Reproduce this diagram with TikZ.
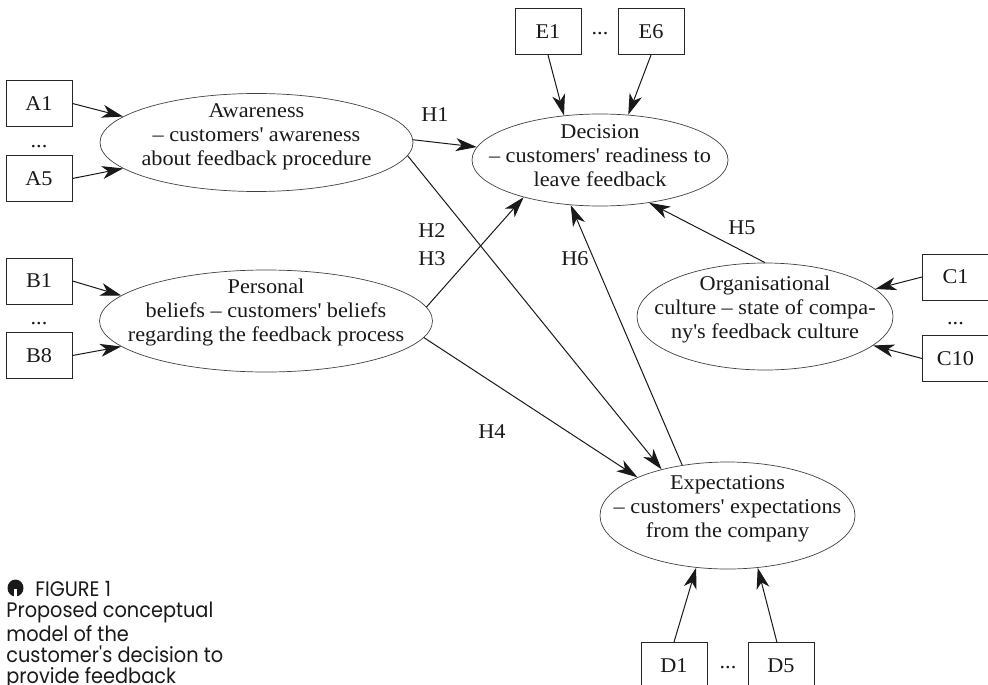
\documentclass[tikz,border=0pt]{standalone}
\usepackage{fontspec}
\setmainfont[FakeStretch=1.06]{Liberation Serif}
\newfontfamily\capfont[FakeStretch=0.92]{Poppins}
\usetikzlibrary{shapes.geometric,arrows.meta}
\newcommand\apo{\textquotesingle}
\newcommand\ltext[2]{\makebox[0pt]{\raisebox{#1}[0pt][0pt]{\begin{tabular}{@{}c@{}}#2\end{tabular}}}}
\begin{document}
\begin{tikzpicture}[x=0.5pt,y=-0.5pt,
  txt/.style={font=\rmfamily\fontsize{10.5}{12}\selectfont, text=black!90},
  ind/.style={txt, draw=black!85, line width=0.5pt, minimum width=33pt, minimum height=23pt, inner sep=0pt},
  lat/.style={txt, ellipse, draw=black!75, line width=0.35pt, inner sep=0pt},
  arr/.style={-{Stealth[length=10.5pt,width=6.5pt,inset=3pt]}, line width=0.5pt, black!90},
  lab/.style={txt, inner sep=0pt}]
\useasboundingbox (0,0) rectangle (988,684);

% indicator boxes
\node[ind] (A1) at (39,103.5) {A1};
\node[ind] (A5) at (39,178.5) {A5};
\node[lab] (Ad) at (39,147) {...};
\node[ind] (B1) at (39,281) {B1};
\node[ind] (B8) at (39,355.5) {B8};
\node[lab] (Bd) at (39,324) {...};
\node[ind] (C1) at (955.5,277) {C1};
\node[ind] (C10) at (955.5,358.5) {C10};
\node[lab] (Cd) at (955.5,324) {...};
\node[ind] (E1) at (548,31.5) {E1};
\node[ind] (E6) at (651,31.5) {E6};
\node[lab] (Ed) at (600,34) {...};
\node[ind] (D1) at (674,665.5) {D1};
\node[ind] (D5) at (781,665.5) {D5};
\node[lab] (Dd) at (728,668) {...};

% latent constructs
\node[lat, minimum width=156.5pt, minimum height=49pt] (aw) at (256.5,142.5)
  {\ltext{0pt}{Awareness\\-- customers\apo{} awareness\\about feedback procedure}};
\node[lat, minimum width=128pt, minimum height=46pt] (de) at (600,160)
  {\ltext{-1.75pt}{Decision\\-- customers\apo{} readiness to\\leave feedback}};
\node[lat, minimum width=166.5pt, minimum height=51pt] (pb) at (266,321)
  {\ltext{1.5pt}{Personal\\beliefs -- customers\apo{} beliefs\\regarding the feedback process}};
\node[lat, minimum width=128pt, minimum height=53.5pt] (oc) at (765,316.5)
  {\ltext{0.5pt}{Organisational\\culture -- state of compa-\\ny\apo{}s feedback culture}};
\node[lat, minimum width=127.5pt, minimum height=53.5pt] (ex) at (727.5,515.5)
  {\ltext{0.5pt}{Expectations\\-- customers\apo{} expectations\\from the company}};

% indicator arrows
\draw[arr] (A1.east) -- (aw.169);
\draw[arr] (A5.east) -- (aw.191);
\draw[arr] (B1.east) -- (pb.170);
\draw[arr] (B8.east) -- (pb.190.5);
\draw[arr] (C1.west) -- (oc.14.4);
\draw[arr] (C10.west) -- (oc.345.6);
\draw[arr] (E1.south) -- (de.129.4);
\draw[arr] (E6.south) -- (de.58.7);
\draw[arr] (D1.north) -- (ex.239);
\draw[arr] (D5.100) -- (ex.300);

% hypotheses
\draw[arr] (aw.1.7) -- (de.174);
\draw[arr] (aw.355.7) -- (ex.145.6);
\draw[arr] (pb.5.8) -- (de.206.9);
\draw[arr] (pb.354) -- (ex.157.9);
\draw[arr] (ex.132.7) -- (de.237.5);
\draw[arr] (oc.north) -- (de.319.8);

\node[lab] (H1) at (435,115) {H1};
\node[lab] (H2) at (432,231) {H2};
\node[lab] (H3) at (432,259) {H3};
\node[lab] (H6) at (575,259) {H6};
\node[lab] (H5) at (742,228) {H5};
\node[lab] (H4) at (492,432) {H4};

% caption
\fill[black!90] (15.5,588) ellipse [x radius=8, y radius=8.5];
\fill[white] (14,589) rectangle (17,597);
\node[anchor=north west, inner sep=0pt, align=left, text=black!90,
  font=\capfont\fontsize{10.5}{10.6}\selectfont] (cap) at (6,581)
  {\hspace*{14.5pt}FIGURE 1\\Proposed conceptual\\model of the\\customer\textquotesingle s decision to\\provide feedback};
\end{tikzpicture}
\end{document}
